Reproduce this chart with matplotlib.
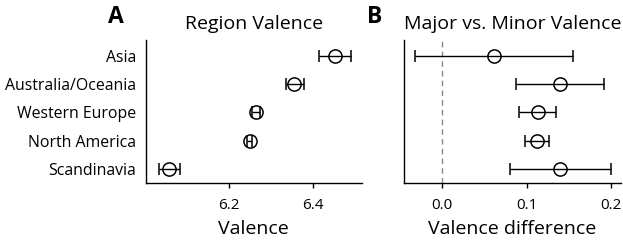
import matplotlib
matplotlib.use("Agg")
import matplotlib.pyplot as plt

plt.rcParams["font.family"] = ["Open Sans", "DejaVu Sans"]

regions = ["Scandinavia", "North America", "Western Europe", "Australia/Oceania", "Asia"]

# panel A: mean valence with CI
valence = [6.056, 6.249, 6.265, 6.356, 6.454]
valence_lo = [6.031, 6.242, 6.256, 6.337, 6.416]
valence_hi = [6.083, 6.254, 6.274, 6.379, 6.492]

# panel B: major minus minor valence with CI
diff = [0.140, 0.112, 0.113, 0.140, 0.061]
diff_lo = [0.080, 0.098, 0.091, 0.088, -0.033]
diff_hi = [0.200, 0.127, 0.135, 0.192, 0.155]


def draw_panel(ax, vals, lo, hi):
    ypos = list(range(len(vals)))
    xerr = [[v - l for v, l in zip(vals, lo)], [h - v for v, h in zip(vals, hi)]]
    ax.errorbar(vals, ypos, xerr=xerr, fmt="o", mfc="none", mec="black", ms=9.5,
                mew=1.1, ecolor="black", elinewidth=1.0, capsize=4.5, capthick=1.0, zorder=3)
    ax.set_ylim(-0.5, 4.55)
    for s in ("top", "right"):
        ax.spines[s].set_visible(False)
    for s in ("left", "bottom"):
        ax.spines[s].set_linewidth(1.0)
    ax.tick_params(axis="x", length=3.5, width=1.0, pad=7, labelsize=11)
    ax.tick_params(axis="y", length=0, pad=7, labelsize=11.4)


fig = plt.figure(figsize=(6.23, 2.45), dpi=100)
ax_a = fig.add_axes([0.2339, 0.2518, 0.3467, 0.585])
ax_b = fig.add_axes([0.6485, 0.2518, 0.3478, 0.585])

draw_panel(ax_a, valence, valence_lo, valence_hi)
ax_a.set_xlim(6.0, 6.518)
ax_a.set_xticks([6.2, 6.4])
ax_a.set_xticklabels(["6.2", "6.4"])
ax_a.set_yticks(range(len(regions)))
ax_a.set_yticklabels(regions)
ax_a.set_xlabel("Valence", fontsize=14, labelpad=5)
ax_a.set_title("Region Valence", fontsize=14, pad=8)

draw_panel(ax_b, diff, diff_lo, diff_hi)
ax_b.axvline(0, color="#888888", lw=1.0, ls=(0, (4, 3)), zorder=1)
ax_b.set_xlim(-0.0455, 0.2117)
ax_b.set_xticks([0.0, 0.1, 0.2])
ax_b.set_xticklabels(["0.0", "0.1", "0.2"])
ax_b.set_yticks([])
ax_b.set_xlabel("Valence difference", fontsize=14, labelpad=5)
ax_b.set_title("Major vs. Minor Valence", fontsize=14, pad=8)

fig.text(115.8 / 623, 1 - 17 / 245, "A", fontsize=16.5, fontweight="bold", ha="center", va="center")
fig.text(374.7 / 623, 1 - 17 / 245, "B", fontsize=16.5, fontweight="bold", ha="center", va="center")

fig.savefig("out.png", dpi=100)
